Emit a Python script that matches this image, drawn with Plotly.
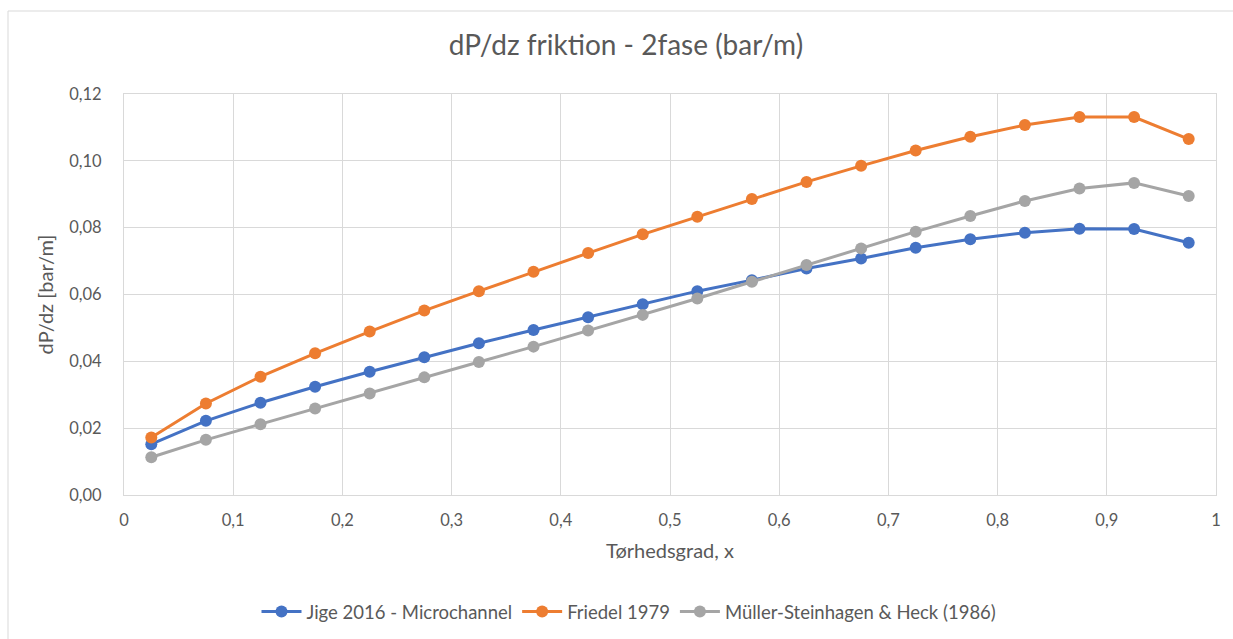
import plotly.graph_objects as go

# ---- data ----
x_quality = [0.025, 0.075, 0.125, 0.175, 0.225, 0.275, 0.325, 0.375, 0.425, 0.475,
             0.525, 0.575, 0.625, 0.675, 0.725, 0.775, 0.825, 0.875, 0.925, 0.975]
jige_2016 = [0.0152, 0.0222, 0.0276, 0.0324, 0.0369, 0.0412, 0.0454, 0.0494, 0.0532, 0.0571,
             0.0610, 0.0643, 0.0678, 0.0708, 0.0740, 0.0765, 0.0785, 0.0797, 0.0796, 0.0755]
friedel_1979 = [0.0172, 0.0274, 0.0354, 0.0424, 0.0489, 0.0552, 0.0610, 0.0668, 0.0724, 0.0780,
                0.0833, 0.0886, 0.0937, 0.0985, 0.1031, 0.1072, 0.1107, 0.1131, 0.1131, 0.1065]
muller_steinhagen = [0.0113, 0.0165, 0.0212, 0.0259, 0.0304, 0.0352, 0.0398, 0.0444, 0.0492, 0.0539,
                     0.0588, 0.0638, 0.0688, 0.0738, 0.0788, 0.0835, 0.0880, 0.0917, 0.0934, 0.0895]

series_names = ["Jige 2016 - Microchannel", "Friedel 1979", "Müller-Steinhagen & Heck (1986)"]
series_colors = ["#4472C4", "#ED7D31", "#A5A5A5"]

x_tick_vals = [0, 0.1, 0.2, 0.3, 0.4, 0.5, 0.6, 0.7, 0.8, 0.9, 1.0]
x_tick_labels = ["0", "0,1", "0,2", "0,3", "0,4", "0,5", "0,6", "0,7", "0,8", "0,9", "1"]
y_tick_vals = [0, 0.02, 0.04, 0.06, 0.08, 0.10, 0.12]
y_tick_labels = ["0,00", "0,02", "0,04", "0,06", "0,08", "0,10", "0,12"]

title_text = "dP/dz friktion - 2fase (bar/m)"
x_title = "Tørhedsgrad, x"
y_title = "dP/dz [bar/m]"

FONT = "Lato, 'Open Sans', sans-serif"
TXT = "#595959"
GRID = "#D9D9D9"

fig = go.Figure()
for name, ys, col in zip(series_names, [jige_2016, friedel_1979, muller_steinhagen], series_colors):
    fig.add_trace(go.Scatter(
        x=x_quality, y=ys, name=name, mode="lines+markers",
        line=dict(color=col, width=3),
        marker=dict(color=col, size=12),
    ))

W, H = 1233, 639
L, R, T, B = 124, 17, 94, 144
pw, ph = W - L - R, H - T - B

def px2x(px):
    return (px - L) / pw

def py2y(py):
    return (H - B - py) / ph

fig.update_layout(
    width=W, height=H,
    margin=dict(l=L, r=R, t=T, b=B, pad=0, autoexpand=False),
    paper_bgcolor="white", plot_bgcolor="white",
    font=dict(family=FONT, color=TXT, size=16),
    title=dict(text=title_text, x=626 / W, xanchor="center",
               y=1 - 45 / H, yanchor="middle",
               font=dict(size=28, color=TXT, family=FONT)),
    showlegend=True,
    legend=dict(orientation="h", x=px2x(629), xanchor="center", y=py2y(612), yanchor="middle",
                font=dict(size=18.5, color=TXT), itemwidth=40, traceorder="normal",
                bgcolor="rgba(0,0,0,0)"),
    xaxis=dict(range=[0, 1], tickvals=x_tick_vals, ticktext=x_tick_labels,
               showgrid=True, gridcolor=GRID, gridwidth=1,
               showline=True, linecolor=GRID, linewidth=1, mirror=True,
               zeroline=False, ticks="", ticklabelstandoff=10, automargin=False,
               tickfont=dict(size=16.5, color=TXT),
               title=dict(text=x_title, font=dict(size=20, color=TXT), standoff=15)),
    yaxis=dict(range=[0, 0.12], tickvals=y_tick_vals, ticktext=y_tick_labels,
               showgrid=True, gridcolor=GRID, gridwidth=1,
               showline=True, linecolor=GRID, linewidth=1, mirror=True,
               zeroline=False, ticks="", ticklabelstandoff=18, automargin=False,
               tickfont=dict(size=16.5, color=TXT),
               title=dict(text=y_title, font=dict(size=20, color=TXT), standoff=10)),
)

# outer chart-area border
fig.add_shape(type="rect", xref="paper", yref="paper",
              x0=px2x(8), x1=px2x(1245), y0=py2y(650), y1=py2y(11),
              line=dict(color=GRID, width=1), fillcolor="rgba(0,0,0,0)", layer="below")

fig.write_html("out.html")
